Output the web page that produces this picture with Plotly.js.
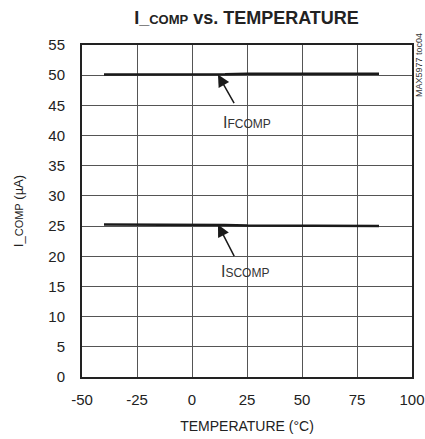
<!DOCTYPE html>
<html>
<head>
<meta charset="utf-8">
<script src="https://cdn.plot.ly/plotly-3.0.1.min.js"></script>
<style>html,body{margin:0;padding:0;background:#fff;}#chart{width:425px;height:439px;}</style>
</head>
<body>
<div id="chart"></div>
<script>
const temperature = [-40, -25, 0, 15, 25, 50, 75, 85];
const iFComp = [50.1, 50.1, 50.1, 50.15, 50.25, 50.25, 50.25, 50.25];
const iSComp = [25.25, 25.25, 25.25, 25.2, 25.1, 25.1, 25.05, 25.0];
const xTicks = [-50, -25, 0, 25, 50, 75, 100];
const yTicks = [0, 5, 10, 15, 20, 25, 30, 35, 40, 45, 50, 55];

const FONT = "'Liberation Sans Narrow', 'Liberation Sans', Arial, sans-serif";

const traces = [
  {x: temperature, y: iFComp, mode: 'lines', line: {color: '#1a1a1a', width: 2.5}, hoverinfo: 'skip'},
  {x: temperature, y: iSComp, mode: 'lines', line: {color: '#1a1a1a', width: 2.5}, hoverinfo: 'skip'}
];

const layout = {
  width: 425, height: 439,
  margin: {l: 82, r: 13, t: 45, b: 62},
  paper_bgcolor: '#fff', plot_bgcolor: '#fff',
  showlegend: false,
  font: {family: FONT, color: '#222', size: 14},
  title: {
    text: "<b>I_<span style='font-size:13px'>COMP</span> vs. TEMPERATURE</b>",
    x: 0.58, xanchor: 'center', y: 0.975, yanchor: 'top',
    font: {family: FONT, size: 18, color: '#222'}
  },
  xaxis: {
    range: [-50, 100], tickvals: xTicks, ticktext: xTicks.map(String),
    showgrid: true, gridcolor: '#555', gridwidth: 1,
    showline: true, mirror: true, linecolor: '#222', linewidth: 2,
    zeroline: false, ticks: '', ticklen: 0, ticklabelstandoff: 8,
    tickfont: {family: FONT, size: 15, color: '#222'},
    title: {text: 'TEMPERATURE (°C)', font: {family: FONT, size: 14, color: '#222'}, standoff: 14}
  },
  yaxis: {
    range: [0, 55], tickvals: yTicks, ticktext: yTicks.map(String),
    showgrid: true, gridcolor: '#555', gridwidth: 1,
    showline: true, mirror: true, linecolor: '#222', linewidth: 2,
    zeroline: false, ticks: '', ticklen: 0, ticklabelstandoff: 12,
    tickfont: {family: FONT, size: 15, color: '#222'},
    title: {text: "I_<span style='font-size:11px'>COMP</span> (µA)", font: {family: FONT, size: 13, color: '#222'}, standoff: 22}
  },
  annotations: [
    {x: 11.8, y: 50.1, xref: 'x', yref: 'y', ax: 17, ay: 30, axref: 'pixel', ayref: 'pixel',
     text: '', showarrow: true, arrowhead: 2, arrowsize: 1.6, arrowwidth: 1.5, arrowcolor: '#1a1a1a'},
    {x: 25, y: 42.2, xref: 'x', yref: 'y', showarrow: false,
     text: "I<span style='font-size:12px'>FCOMP</span>", font: {family: FONT, size: 16, color: '#333'}},
    {x: 11.8, y: 25.25, xref: 'x', yref: 'y', ax: 17, ay: 33, axref: 'pixel', ayref: 'pixel',
     text: '', showarrow: true, arrowhead: 2, arrowsize: 1.6, arrowwidth: 1.5, arrowcolor: '#1a1a1a'},
    {x: 24, y: 17.4, xref: 'x', yref: 'y', showarrow: false,
     text: "I<span style='font-size:12px'>SCOMP</span>", font: {family: FONT, size: 16, color: '#333'}},
    {x: 0, y: 0, xref: 'paper', yref: 'paper', showarrow: false, text: 'MAX5977 toc04',
     textangle: -90, xanchor: 'center', yanchor: 'middle', font: {family: FONT, size: 9, color: '#333'}}
  ]
};
// convert the side-label position from pixels to paper coordinates
const pw = 425 - 82 - 13, ph = 439 - 45 - 62;
layout.annotations[4].x = (419 - 82) / pw;
layout.annotations[4].y = (439 - 62 - 65) / ph;

Plotly.newPlot('chart', traces, layout, {staticPlot: true, displayModeBar: false});
</script>
</body>
</html>
